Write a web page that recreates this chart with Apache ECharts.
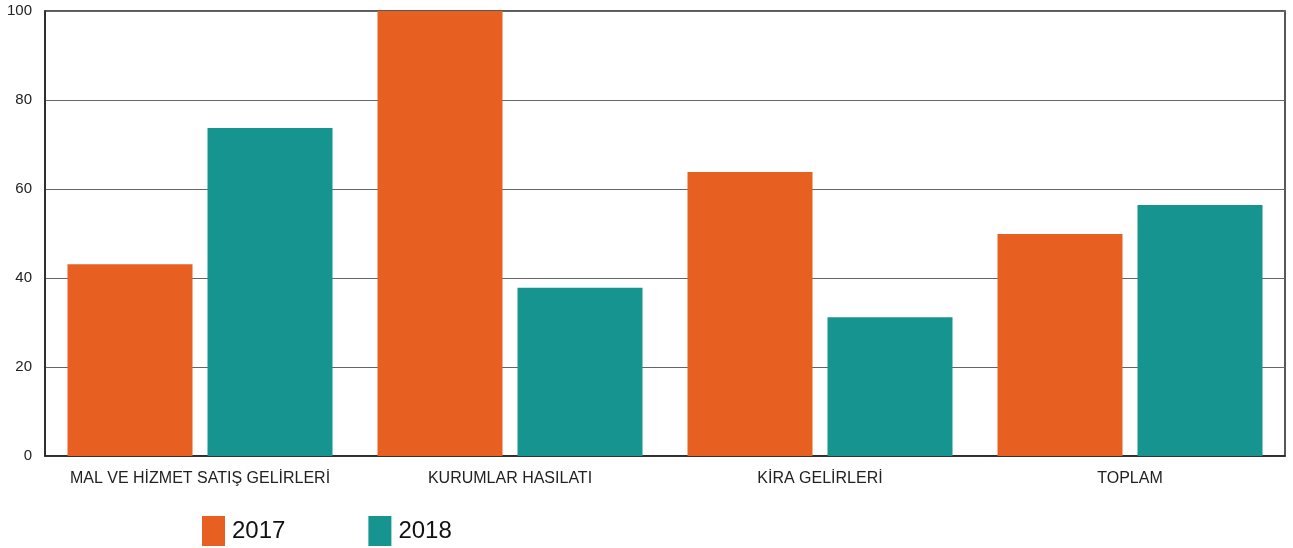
<!DOCTYPE html>
<html><head><meta charset="utf-8">
<script src="https://cdn.jsdelivr.net/npm/echarts@6/dist/echarts.min.js"></script>
<style>html,body{margin:0;padding:0;background:#fff}#c{width:1293px;height:548px}</style>
</head><body><div id="c"></div>
<script>
const categories = ["MAL VE HİZMET SATIŞ GELİRLERİ", "KURUMLAR HASILATI", "KİRA GELİRLERİ", "TOPLAM"];
const values2017 = [43.1, 100, 63.8, 49.9];
const values2018 = [73.7, 37.8, 31.2, 56.4];
const yTicks = [0, 20, 40, 60, 80, 100];

const chart = echarts.init(document.getElementById('c'), null, {renderer: 'canvas'});
chart.setOption({
  animation: false,
  textStyle: {fontFamily: 'Liberation Sans, Arial, sans-serif'},
  grid: {left: 45, right: 8, top: 11, bottom: 92, show: true, borderColor: '#222', borderWidth: 1.5},
  legend: {
    data: ['2017', '2018'],
    left: 202, top: 516, padding: 0,
    itemWidth: 23, itemHeight: 30, itemGap: 83,
    icon: 'rect',
    textStyle: {fontSize: 24, color: '#111', padding: [2, 0, 0, 2]}
  },
  xAxis: {
    type: 'category', data: categories,
    axisLine: {show: true, lineStyle: {color: '#222', width: 1.5}},
    axisTick: {show: false},
    axisLabel: {fontSize: 16, color: '#222', margin: 15, interval: 0, hideOverlap: false}
  },
  yAxis: {
    type: 'value', min: yTicks[0], max: yTicks[yTicks.length - 1], interval: 20,
    axisLine: {show: true, lineStyle: {color: '#222', width: 1.5}},
    axisTick: {show: false},
    axisLabel: {fontSize: 15, color: '#222', margin: 13},
    splitLine: {lineStyle: {color: '#666', width: 1}}
  },
  series: [
    {name: '2017', type: 'bar', data: values2017, barWidth: 125, barGap: '12%', itemStyle: {color: '#E76021'}},
    {name: '2018', type: 'bar', data: values2018, barWidth: 125, barGap: '12%', itemStyle: {color: '#159490'}}
  ]
});
</script></body></html>
